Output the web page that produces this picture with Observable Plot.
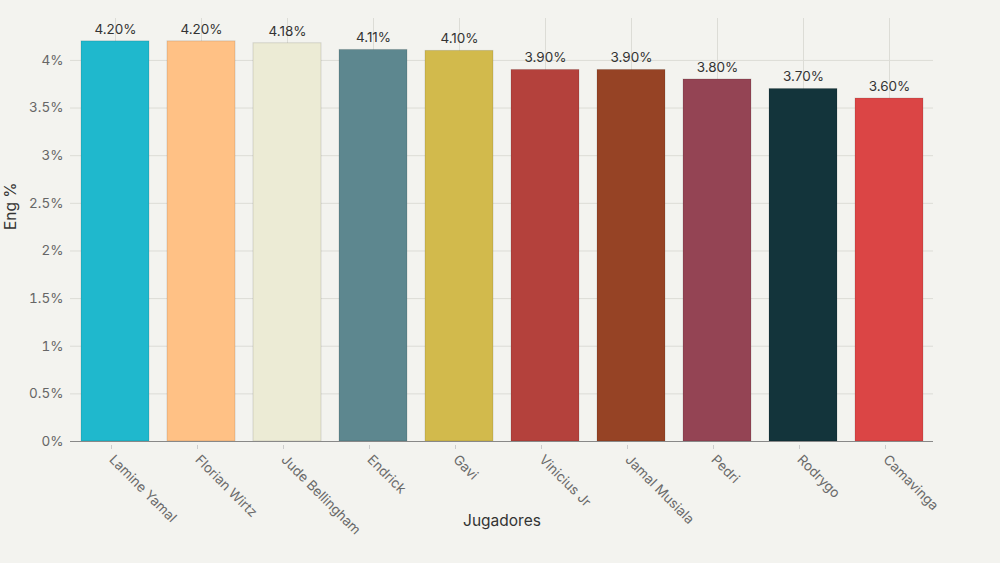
<!DOCTYPE html>
<html><head><meta charset="utf-8">
<script src="https://cdn.jsdelivr.net/npm/d3@7"></script>
<script src="https://cdn.jsdelivr.net/npm/@observablehq/plot@0.6"></script>
<style>
html,body{margin:0;padding:0;background:#f3f3ef;}
#chart svg{display:block;}
</style></head>
<body><div id="chart"></div>
<script>
const players = ["Lamine Yamal","Florian Wirtz","Jude Bellingham","Endrick","Gavi","Vinicius Jr","Jamal Musiala","Pedri","Rodrygo","Camavinga"];
const engagement = [4.20, 4.20, 4.18, 4.11, 4.10, 3.90, 3.90, 3.80, 3.70, 3.60];
const colors = ["#1FB8CD","#FFC185","#ECEBD5","#5D878F","#D2BA4C","#B4413C","#964325","#944454","#13343B","#DB4545"];
const yTicks = [0, 0.5, 1, 1.5, 2, 2.5, 3, 3.5, 4];

const data = players.map((p, i) => ({player: p, eng: engagement[i]}));
const font = "Inter, 'Liberation Sans', sans-serif";

const chart = Plot.plot({
  width: 1000,
  height: 563,
  marginLeft: 70,
  marginRight: 67,
  marginTop: 18,
  marginBottom: 122,
  style: {background: "#f3f3ef", fontFamily: font, fontSize: "13px", color: "#666"},
  x: {domain: players, paddingInner: 0.21, paddingOuter: 0.105, label: null},
  y: {domain: [0, 4.44], label: null},
  color: {domain: players, range: colors},
  marks: [
    Plot.gridY(yTicks, {stroke: "#dcdcd6", strokeOpacity: 1}),
    Plot.gridX(players, {stroke: "#dcdcd6", strokeOpacity: 1}),
    Plot.barY(data, {x: "player", y: "eng", fill: "player", stroke: "#000", strokeOpacity: 0.12, strokeWidth: 1}),
    Plot.ruleY([0], {stroke: "#888"}),
    Plot.axisY(yTicks, {tickSize: 0, tickPadding: 7, tickFormat: d => d + "%", fill: "#666", fontSize: 13.5, label: null}),
    Plot.axisX(players, {tickSize: 4, stroke: "#ccc", tickRotate: 45, textAnchor: "start", tickPadding: 8, fill: "#6a6a6a", fontSize: 13.5, label: null, dx: -4, dy: 4}),
    Plot.text(data, {x: "player", y: "eng", text: d => d.eng.toFixed(2) + "%", dy: -12, fill: "#333", fontSize: 13.5}),
    Plot.text(["Jugadores"], {frameAnchor: "bottom", dy: 84, text: d => d, fill: "#333", fontSize: 15.5}),
    Plot.text(["Eng %"], {frameAnchor: "left", dx: -59, rotate: -90, text: d => d, fill: "#333", fontSize: 15.5})
  ]
});
document.getElementById("chart").appendChild(chart);
</script></body></html>
